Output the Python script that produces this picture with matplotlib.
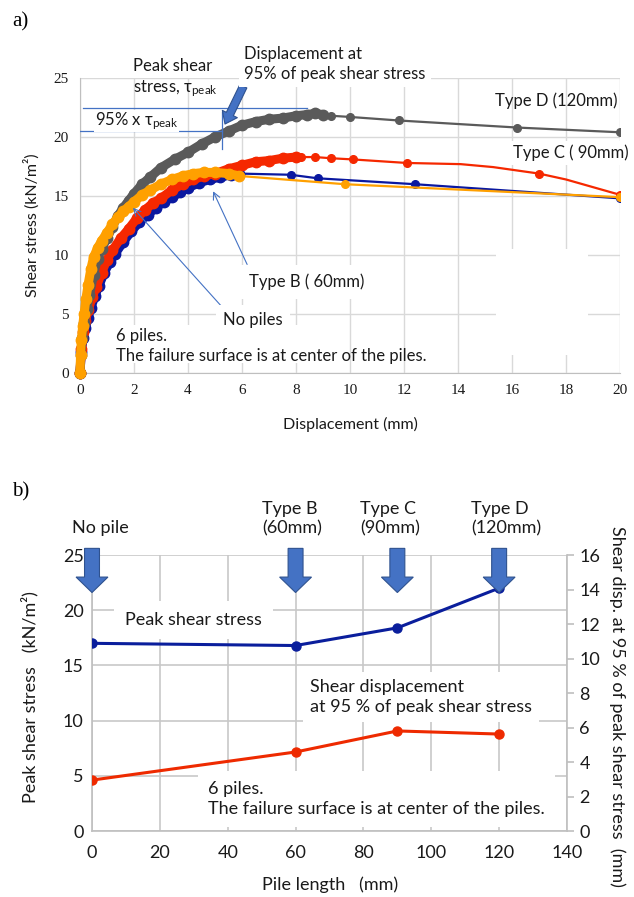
import matplotlib
matplotlib.use('Agg')
import matplotlib.pyplot as plt
from matplotlib.patches import Rectangle, FancyArrow

plt.rcParams['font.family'] = ['Lato', 'DejaVu Sans']
plt.rcParams['mathtext.fontset'] = 'custom'
plt.rcParams['mathtext.rm'] = 'Lato'
plt.rcParams['mathtext.it'] = 'Lato:italic'
plt.rcParams['mathtext.default'] = 'regular'

# ---------------- data: chart a) ----------------
# dense (densely sampled) part of each curve
nopile_x = [0, 0.02, 0.05, 0.1, 0.15, 0.22, 0.3, 0.4, 0.5, 0.65, 0.8, 1.0, 1.2, 1.4, 1.6,
            1.8, 2.0, 2.3, 2.6, 3.0, 3.4, 3.8, 4.2, 4.6, 5.0, 5.5, 5.9]
nopile_y = [0, 1.5, 2.8, 4.0, 5.0, 6.3, 7.5, 8.8, 9.8, 10.6, 11.2, 11.9, 12.6, 13.2, 13.7,
            14.1, 14.5, 15.1, 15.5, 16.0, 16.4, 16.7, 16.9, 17.0, 17.0, 16.9, 16.7]
nopile_tail_x = [9.8, 20.0]
nopile_tail_y = [16.0, 14.9]

typeB_x = [0, 0.05, 0.12, 0.2, 0.3, 0.4, 0.55, 0.7, 0.9, 1.1, 1.3, 1.6, 1.9, 2.2, 2.5,
           2.8, 3.1, 3.4, 3.7, 4.0, 4.4, 4.8, 5.2, 5.6, 5.9]
typeB_y = [0, 1.8, 3.0, 3.8, 4.7, 5.5, 6.5, 7.4, 8.5, 9.4, 10.1, 11.1, 12.0, 12.8, 13.4,
           14.0, 14.5, 14.9, 15.3, 15.7, 16.1, 16.4, 16.6, 16.8, 16.9]
typeB_tail_x = [7.8, 8.8, 12.4, 20.0]
typeB_tail_y = [16.8, 16.5, 16.0, 14.8]

typeC_x = [0, 0.05, 0.12, 0.2, 0.3, 0.45, 0.6, 0.8, 1.0, 1.2, 1.5, 1.8, 2.1, 2.4, 2.7,
           3.0, 3.4, 3.8, 4.2, 4.6, 5.0, 5.5, 6.0, 6.5, 7.0, 7.5, 8.0]
typeC_y = [0, 2.0, 3.5, 4.4, 5.3, 6.4, 7.3, 8.5, 9.6, 10.4, 11.4, 12.2, 13.1, 13.8, 14.4,
           14.8, 15.5, 16.0, 16.4, 16.7, 16.9, 17.3, 17.6, 17.9, 18.0, 18.2, 18.3]
typeC_tail_x = [8.2, 8.7, 9.3, 10.1, 12.1, 14.1, 15.3, 17.0, 18.0, 20.0]
typeC_tail_y = [18.3, 18.3, 18.2, 18.1, 17.8, 17.7, 17.45, 16.9, 16.4, 15.1]
typeC_tail_marked = [True, True, True, True, True, False, False, True, False, True]

typeD_x = [0, 0.03, 0.08, 0.15, 0.25, 0.35, 0.5, 0.65, 0.8, 1.0, 1.2, 1.4, 1.6, 1.8, 2.0,
           2.3, 2.6, 3.0, 3.5, 4.0, 4.5, 5.0, 5.5, 6.0, 6.5, 7.0, 7.5, 8.0, 8.4, 8.7, 9.0]
typeD_y = [0, 1.5, 3.0, 4.2, 5.4, 6.6, 8.3, 9.7, 10.5, 11.4, 12.4, 13.3, 14.0, 14.6, 15.2,
           16.0, 16.6, 17.4, 18.1, 18.7, 19.4, 20.0, 20.5, 21.0, 21.3, 21.5, 21.6, 21.8, 21.9, 22.0, 21.9]
typeD_tail_x = [9.3, 10.0, 11.8, 16.2, 20.0]
typeD_tail_y = [21.8, 21.7, 21.4, 20.8, 20.4]

# ---------------- data: chart b) ----------------
pile_length = [0, 60, 90, 120]
peak_shear_stress = [17.0, 16.8, 18.4, 22.0]
disp_95 = [2.95, 4.58, 5.8, 5.62]
arrow_labels = ['No pile', 'Type B\n(60mm)', 'Type C\n(90mm)', 'Type D\n(120mm)']

c_gray = '#5A5A5A'
c_red = '#F52800'
c_blue = '#0A18A0'
c_orange = '#FFA000'
c_note = '#4472C4'
c_grid = '#D9D9D9'
c_text = '#1A1A1A'

W, H = 634, 897


def P(x, y):
    return x / W, 1 - y / H


fig = plt.figure(figsize=(W / 100, H / 100), dpi=100)

# =============== chart a) ===============
ax = fig.add_axes([80 / W, 1 - 373 / H, 540 / W, 295 / H])
ax.set_xlim(0, 20)
ax.set_ylim(0, 25)
ax.set_xticks(range(0, 21, 2))
ax.set_yticks(range(0, 26, 5))
ax.grid(True, color=c_grid, lw=1.0)
for s in ['top', 'right']:
    ax.spines[s].set_visible(False)
for s in ['left', 'bottom']:
    ax.spines[s].set_color('#BFBFBF')
ax.tick_params(length=0, labelsize=11, pad=8, colors=c_text)
for lab in ax.get_xticklabels() + ax.get_yticklabels():
    lab.set_family('Liberation Serif')

# white text boxes of the original that hide the grid
ax.add_patch(Rectangle((15.4, 1.5), 3.4, 9.0, fc='white', ec='none', zorder=1.6))
ax.add_patch(Rectangle((1.3, 0.85), 7.7, 3.25, fc='white', ec='none', zorder=1.6))

series = [
    (typeB_x, typeB_y, typeB_tail_x, typeB_tail_y, None, c_blue),
    (typeC_x, typeC_y, typeC_tail_x, typeC_tail_y, typeC_tail_marked, c_red),
    (typeD_x, typeD_y, typeD_tail_x, typeD_tail_y, None, c_gray),
    (nopile_x, nopile_y, nopile_tail_x, nopile_tail_y, None, c_orange),
]
for i, (dx, dy, tx, ty, mk, c) in enumerate(series):
    z = 3 + i
    lx = [dx[-1]] + tx
    ly = [dy[-1]] + ty
    marks = [True] + (mk if mk is not None else [True] * len(tx))
    ax.plot(lx, ly, '-', color=c, lw=1.6, zorder=z)
    ax.plot([a for a, m in zip(lx, marks) if m], [b for b, m in zip(ly, marks) if m],
            'o', color=c, ms=5.5, zorder=z)
    ax.plot(dx, dy, '-o', color=c, lw=6.5, ms=7.5, zorder=z, clip_on=False,
            solid_capstyle='round', solid_joinstyle='round')

# peak / 95% construction lines
ax.plot([0.1, 8.4], [22.45, 22.45], color=c_note, lw=0.9, zorder=8)
ax.plot([0.0, 5.26], [20.5, 20.5], color=c_note, lw=0.9, zorder=8)
ax.plot([5.26, 5.26], [19.0, 22.1], color=c_note, lw=0.9, zorder=8)

ax.annotate('', xy=(5.37, 21.1), xytext=(6.05, 24.3),
            arrowprops=dict(arrowstyle='simple,head_length=0.5,head_width=0.75,tail_width=0.35',
                            fc=c_note, ec='#2F528F', lw=0.8, mutation_scale=16,
                            shrinkA=0, shrinkB=0),
            zorder=9, annotation_clip=False)
ax.annotate('', xy=(1.96, 14.0), xytext=(5.26, 5.6),
            arrowprops=dict(arrowstyle='->,head_length=0.5,head_width=0.25', color=c_note,
                            lw=0.8, shrinkA=0, shrinkB=0), zorder=9)
ax.annotate('', xy=(4.93, 15.4), xytext=(6.19, 9.2),
            arrowprops=dict(arrowstyle='->,head_length=0.5,head_width=0.25', color=c_note,
                            lw=0.8, shrinkA=0, shrinkB=0), zorder=9)

fs = 12
fig.text(*P(133, 58), 'Peak shear\nstress, τ$_{peak}$', ha='left', va='top', fontsize=fs,
         color=c_text, linespacing=1.3)
fig.text(*P(244, 46), 'Displacement at\n95% of peak shear stress', ha='left', va='top',
         fontsize=fs, color=c_text, linespacing=1.3,
         bbox=dict(fc='white', ec='none', pad=4), zorder=10)
fig.text(*P(95, 121), '95% x τ$_{peak}$', ha='left', va='center', fontsize=fs, color=c_text,
         bbox=dict(fc='white', ec='none', pad=0.5), zorder=10)
fig.text(*P(495, 101), 'Type D (120mm)', ha='left', va='center', fontsize=fs, color=c_text)
fig.text(*P(513, 153), 'Type C ( 90mm)', ha='left', va='center', fontsize=fs, color=c_text,
         bbox=dict(fc='white', ec='none', pad=3), zorder=10)
fig.text(*P(249, 282), 'Type B ( 60mm)', ha='left', va='center', fontsize=fs, color=c_text,
         bbox=dict(fc='white', ec='none', pad=6), zorder=10)
fig.text(*P(223, 320), 'No piles', ha='left', va='center', fontsize=fs, color=c_text,
         bbox=dict(fc='white', ec='none', pad=5), zorder=10)
fig.text(*P(116, 346), '6 piles.\nThe failure surface is at center of the piles.', ha='left',
         va='center', fontsize=fs, color=c_text, linespacing=1.35)

ax.set_xlabel('Displacement (mm)', fontsize=11.5, color=c_text, labelpad=14)
ax.set_ylabel('Shear stress (kN/m²)', fontsize=11.5, color=c_text, labelpad=10)

fig.text(*P(12, 22), 'a)', fontsize=15, family='Liberation Serif', va='center', ha='left')
fig.text(*P(12, 492), 'b)', fontsize=15, family='Liberation Serif', va='center', ha='left')

# =============== chart b) ===============
bx = fig.add_axes([92 / W, 1 - 831 / H, 475 / W, 276 / H])
bx.set_xlim(0, 140)
bx.set_ylim(0, 25)
bx.set_xticks(range(0, 141, 20))
bx.set_yticks(range(0, 26, 5))
bx.grid(True, color='#C8C8C8', lw=1.2)
for s in ['top', 'right']:
    bx.spines[s].set_visible(False)
for s in ['left', 'bottom']:
    bx.spines[s].set_color('#BFBFBF')
    bx.spines[s].set_linewidth(1.2)
bx.tick_params(length=0, labelsize=13, colors=c_text)
bx.tick_params(axis='x', pad=10)
bx.tick_params(axis='y', pad=6)
bx.plot(pile_length, peak_shear_stress, '-o', color='#0A1E9C', lw=2.2, ms=6.5, zorder=4)

br = bx.twinx()
br.set_ylim(0, 16)
br.set_yticks(range(0, 17, 2))
for s in ['top', 'left', 'bottom']:
    br.spines[s].set_visible(False)
br.spines['right'].set_color('#BFBFBF')
br.spines['right'].set_linewidth(1.2)
br.tick_params(axis='y', length=5, width=1.2, color='#BFBFBF', labelsize=13,
               labelcolor=c_text, pad=4)
br.plot(pile_length, disp_95, '-o', color='#EE2A00', lw=2.2, ms=6.5, zorder=4)

# block arrows above each pile type
for xv in pile_length:
    bx.add_patch(FancyArrow(xv, 25.6, 0, -4.0, width=4.4, head_width=9.4,
                            head_length=1.4, length_includes_head=True,
                            fc=c_note, ec='#2F528F', lw=0.8, clip_on=False, zorder=6))
label_left_px = [72, 262, 360, 471]
for lab, lx in zip(arrow_labels, label_left_px):
    fig.text(*P(lx, 536), lab, ha='left', va='bottom', fontsize=13, color=c_text,
             linespacing=1.25)

fig.text(*P(125, 620), 'Peak shear stress', ha='left', va='center', fontsize=13,
         color=c_text, bbox=dict(fc='white', ec='none', pad=8), zorder=10)
fig.text(*P(310, 697), 'Shear displacement\nat 95 % of peak shear stress', ha='left',
         va='center', fontsize=13, color=c_text, linespacing=1.3,
         bbox=dict(fc='white', ec='none', pad=5), zorder=10)
fig.text(*P(208, 799), '6 piles.\nThe failure surface is at center of the piles.', ha='left',
         va='center', fontsize=13, color=c_text, linespacing=1.3,
         bbox=dict(fc='white', ec='none', pad=7), zorder=10)

fig.text(*P(330, 885), 'Pile length   (mm)', ha='center', va='center', fontsize=13,
         color=c_text)
fig.text(*P(30, 697), 'Peak shear stress   (kN/m²)', ha='center', va='center', fontsize=13,
         color=c_text, rotation=90)
fig.text(*P(617, 706), 'Shear disp. at 95 % of peak shear stress  (mm)', ha='center',
         va='center', fontsize=13, color=c_text, rotation=270)

fig.savefig('out.png', dpi=100, facecolor='white')
